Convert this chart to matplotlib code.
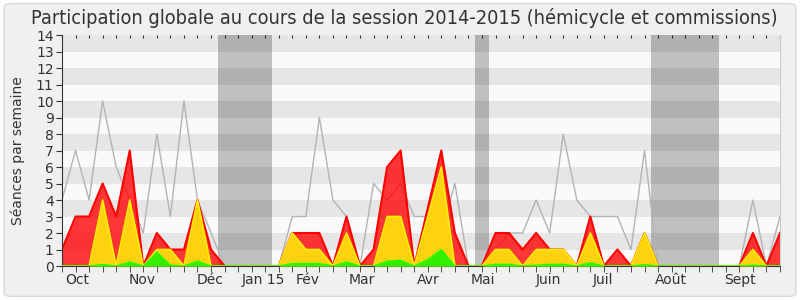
import numpy as np
import matplotlib.pyplot as plt
from matplotlib.patches import FancyBboxPatch

# one value per week, session 2014-2015
weeks = np.arange(54)
presences = [1, 3, 3, 5, 3, 7, 0, 2, 1, 1, 4, 1, 0, 0, 0, 0, 0, 2, 2, 2,
             0, 3, 0, 1, 6, 7, 0, 3.5, 7, 2, 0, 0, 2, 2, 1, 2, 1, 1, 0, 3,
             0, 1, 0, 2, 0, 0, 0, 0, 0, 0, 0, 2, 0, 2]
participations = [0, 0, 0, 4, 0, 4, 0, 1, 1, 0, 4, 0, 0, 0, 0, 0, 0, 2, 1, 1,
                  0, 2, 0, 0, 3, 3, 0, 3, 6, 0, 0, 0, 1, 1, 0, 1, 1, 1, 0, 2,
                  0, 0, 0, 2, 0, 0, 0, 0, 0, 0, 0, 1, 0, 0]
questions = [0, 0, 0, 0.1, 0, 0.25, 0, 0.85, 0.05, 0, 0.3, 0, 0, 0, 0, 0, 0, 0.15, 0.15, 0.15,
             0, 0.25, 0, 0, 0.3, 0.35, 0, 0.4, 1.0, 0, 0, 0, 0.1, 0.1, 0, 0.05, 0.1, 0.1, 0, 0.2,
             0, 0, 0, 0.08, 0, 0, 0, 0, 0, 0, 0, 0.05, 0, 0]
mediane = [4, 7, 4, 10, 6, 4, 2, 8, 3, 10, 4, 2, 0, 0, 0, 0, 0, 3, 3, 9,
           4, 3, 0, 5, 4, 5, 3, 3, 2, 5, 0, 0, 1, 2, 2, 4, 2, 8, 4, 3,
           3, 3, 1, 7, 0, 0, 0, 0, 0, 0, 0, 4, 0, 3]

vacances = [(11.5, 15.5), (30.5, 31.5), (43.5, 48.5)]
mois = ['Oct', 'Nov', 'Déc', 'Jan 15', 'Fév', 'Mar', 'Avr', 'Mai', 'Juin', 'Juil', 'Août', 'Sept']
mois_pos = [1.1, 5.95, 10.95, 14.85, 18.1, 22.15, 27.05, 31.1, 35.9, 39.9, 44.95, 50.05]

fig = plt.figure(figsize=(8, 3), dpi=100, facecolor='white')
bg = FancyBboxPatch((0.005, 0.012), 0.99, 0.976, boxstyle='round,pad=0,rounding_size=0.01',
                    transform=fig.transFigure, facecolor='#F0F0F0', edgecolor='#DADADA', lw=1, zorder=-10)
fig.patches.append(bg)

ax = fig.add_axes([0.0775, 0.1133, 0.8975, 0.77])
ax.set_xlim(0, 53)
ax.set_ylim(0, 14)

# striped background
for k in range(14):
    ax.axhspan(k, k + 1, color='#E6E6E6' if k % 2 else '#FAFAFA', lw=0, zorder=0)

for a, b in vacances:
    ax.axvspan(a, b, color='black', alpha=0.23, lw=0, zorder=1)

# median line sits under the semi-transparent red area
ax.plot(weeks, mediane, color='#B4B4B4', lw=1, zorder=1.5)
ax.fill_between(weeks, presences, color='#FF0000', alpha=0.78, lw=0, zorder=2)
ax.plot(weeks, presences, color='#FF0000', lw=1.5, zorder=2)
ax.fill_between(weeks, participations, color='#FFD20F', lw=0, zorder=3)
ax.plot(weeks, participations, color='#FFF000', lw=1.2, zorder=3)
ax.fill_between(weeks, questions, color='#33EE00', lw=0, zorder=4)
ax.plot(weeks, questions, color='#22FF00', lw=1, zorder=4)

ax.set_yticks(range(15))
ax.tick_params(axis='y', length=4, pad=2, labelsize=10, colors='#333333')
ax.set_xticks(mois_pos)
ax.set_xticklabels(mois)
ax.set_xticks(weeks, minor=True)
ax.tick_params(axis='x', which='major', length=0, pad=5, labelsize=10, colors='#333333')
ax.tick_params(axis='x', which='minor', length=4, color='#333333')

top = ax.secondary_xaxis('top')
top.set_xticks(weeks)
top.tick_params(direction='in', length=2, labeltop=False, color='#333333')
top.spines['top'].set_visible(False)

for s in ['left', 'bottom']:
    ax.spines[s].set_color('#333333')
ax.spines['top'].set_visible(False)
ax.spines['right'].set_color('#CCCCCC')

ax.set_ylabel('Séances par semaine', fontsize=10, color='#333333', labelpad=8)
fig.text(0.505, 0.94, 'Participation globale au cours de la session 2014-2015 (hémicycle et commissions)',
         ha='center', va='center', fontsize=14.3, fontstretch='condensed', color='#333333')

fig.savefig('out.png', dpi=100, facecolor=fig.get_facecolor())
